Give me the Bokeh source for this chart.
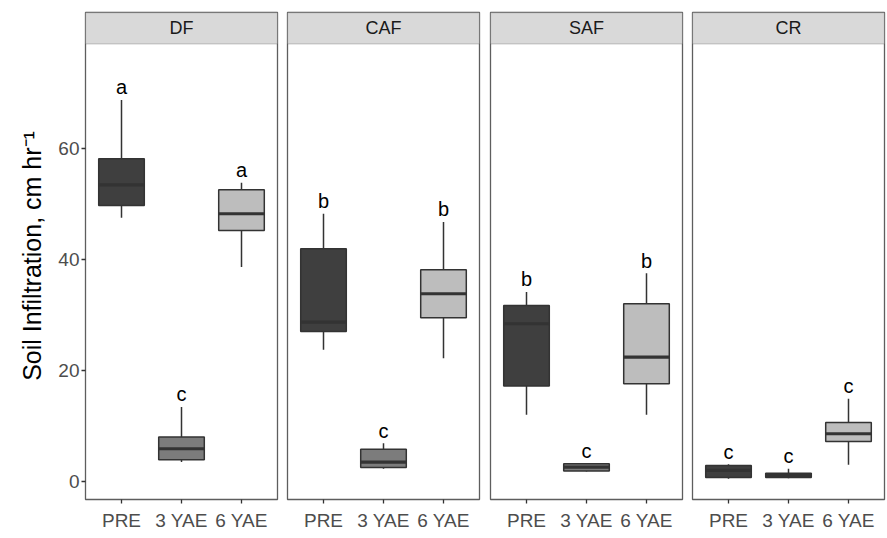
from bokeh.plotting import figure
from bokeh.layouts import row
from bokeh.models import Range1d, FactorRange, FixedTicker, BoxAnnotation, Label, ColumnDataSource
from bokeh.core.properties import value
from bokeh.embed import file_html
from bokeh.resources import INLINE

# ---- data ----
systems = ["DF", "CAF", "SAF", "CR"]
periods = ["PRE", "3 YAE", "6 YAE"]
y_ticks = [0, 20, 40, 60]

# values ordered system by system, each with PRE, 3 YAE, 6 YAE
whisker_low = [47.5, 3.5, 38.6, 23.7, 2.3, 22.2, 12.0, 1.8, 12.0, 0.5, 0.6, 3.0]
q1 = [49.7, 3.9, 45.2, 27.0, 2.5, 29.5, 17.2, 1.9, 17.6, 0.7, 0.7, 7.2]
median = [53.4, 5.9, 48.2, 28.7, 3.5, 33.8, 28.4, 2.6, 22.4, 2.0, 1.1, 8.6]
q3 = [58.1, 8.0, 52.5, 41.9, 5.8, 38.1, 31.7, 3.2, 32.0, 2.9, 1.5, 10.6]
whisker_high = [68.7, 13.4, 53.8, 48.2, 6.9, 46.7, 34.1, 3.3, 37.5, 3.1, 2.3, 14.9]
letters = ["a", "c", "a", "b", "c", "b", "b", "c", "b", "c", "c", "c"]

# ---- styles ----
FONT = "Liberation Sans"
fills = ["#3f3f3f", "#7c7c7c", "#bdbdbd"]
LINE = "#333333"
BORDER = "#5e5e5e"
STRIP = "#d9d9d9"
BOX_W = 0.76
Y_LO, Y_HI = -3.24, 84.43
STRIP_BOTTOM = 78.79
LABEL_GAP = 0.3
BORDERS = [(85, 5), (5, 6), (5, 5), (5, 3)]

panels = []
for i, sysname in enumerate(systems):
    first = i == 0
    sl = slice(3 * i, 3 * i + 3)
    src = ColumnDataSource(dict(
        cat=periods,
        lo=whisker_low[sl], q1=q1[sl], med=median[sl], q3=q3[sl], hi=whisker_high[sl],
        fill=fills,
        left=[(c, -BOX_W / 2) for c in periods],
        right=[(c, BOX_W / 2) for c in periods],
        lab=letters[sl],
        laby=[h + LABEL_GAP for h in whisker_high[sl]],
    ))
    p = figure(
        x_range=FactorRange(*periods, range_padding=0.2 / 3),
        y_range=Range1d(Y_LO, Y_HI),
        frame_width=192, frame_height=487,
        min_border_left=BORDERS[i][0],
        min_border_right=BORDERS[i][1],
        min_border_top=12, min_border_bottom=39,
        y_axis_location="left" if first else None,
        output_backend="svg", toolbar_location=None,
    )
    p.grid.visible = False
    p.outline_line_color = BORDER
    p.outline_line_width = 1.3
    p.background_fill_color = "white"
    p.border_fill_color = "white"

    # strip
    p.add_layout(BoxAnnotation(bottom=STRIP_BOTTOM, fill_color=STRIP, fill_alpha=1.0,
                               line_color=BORDER, line_width=1.3, level="underlay"))
    p.add_layout(Label(x=1.5, y=(STRIP_BOTTOM + Y_HI) / 2, text=sysname,
                       text_align="center", text_baseline="middle",
                       text_font=FONT, text_font_size="18px", text_color="#1a1a1a"))

    # whiskers
    p.segment(x0="cat", y0="q3", x1="cat", y1="hi", source=src, line_color=LINE, line_width=1.5)
    p.segment(x0="cat", y0="lo", x1="cat", y1="q1", source=src, line_color=LINE, line_width=1.5)
    # boxes
    p.vbar(x="cat", bottom="q1", top="q3", width=BOX_W, source=src,
           fill_color="fill", line_color=LINE, line_width=1.5)
    # medians
    p.segment(x0="left", y0="med", x1="right", y1="med", source=src,
              line_color=LINE, line_width=3.2)
    # letters
    p.text(x="cat", y="laby", text="lab", source=src, text_align="center",
           text_baseline="bottom", text_font=value(FONT), text_font_size="20px",
           text_color="black")

    xa = p.xaxis[0]
    xa.axis_line_color = None
    xa.major_tick_in = 0
    xa.major_tick_out = 4
    xa.major_tick_line_color = LINE
    xa.major_tick_line_width = 1.3
    xa.minor_tick_line_color = None
    xa.major_label_text_font = FONT
    xa.major_label_text_font_size = "19px"
    xa.major_label_text_color = "#4d4d4d"
    xa.major_label_standoff = 6

    if first:
        ya = p.yaxis[0]
        ya.ticker = FixedTicker(ticks=y_ticks)
        ya.axis_line_color = None
        ya.major_tick_in = 0
        ya.major_tick_out = 4
        ya.major_tick_line_color = LINE
        ya.major_tick_line_width = 1.3
        ya.minor_tick_line_color = None
        ya.major_label_text_font = FONT
        ya.major_label_text_font_size = "19px"
        ya.major_label_text_color = "#4d4d4d"
        ya.major_label_standoff = 2
        ya.axis_label = "Soil Infiltration, cm hr\u207b\u00b9"
        ya.axis_label_text_font = FONT
        ya.axis_label_text_font_size = "25px"
        ya.axis_label_text_font_style = "normal"
        ya.axis_label_text_color = "black"
        ya.axis_label_standoff = 9
    panels.append(p)

layout = row(*panels)
open("out.html", "w").write(file_html(layout, INLINE))
